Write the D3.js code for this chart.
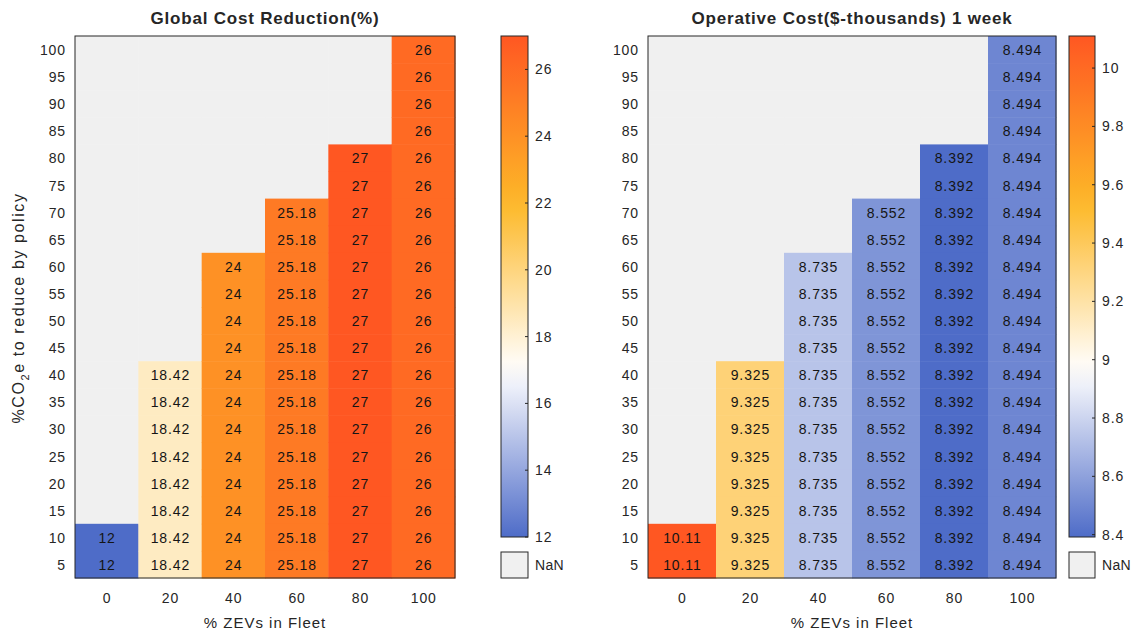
<!DOCTYPE html>
<html><head><meta charset="utf-8">
<script src="https://cdn.jsdelivr.net/npm/d3@7"></script>
<style>
body{margin:0;background:#fff;}
text{font-family:"Liberation Sans",Arial,Helvetica,sans-serif;}
</style></head>
<body><svg id="c" width="1137" height="634"></svg>
<script>
// ---- data ----
const zevs = [0, 20, 40, 60, 80, 100];
const co2Levels = [100, 95, 90, 85, 80, 75, 70, 65, 60, 55, 50, 45, 40, 35, 30, 25, 20, 15, 10, 5];
// each column listed from CO2 = 100 (top) down to CO2 = 5 (bottom); null = NaN
const N = null;
const costReductionCols = [
  [N,N,N,N,N,N,N,N,N,N,N,N,N,N,N,N,N,N,12,12],
  [N,N,N,N,N,N,N,N,N,N,N,N,18.42,18.42,18.42,18.42,18.42,18.42,18.42,18.42],
  [N,N,N,N,N,N,N,N,24,24,24,24,24,24,24,24,24,24,24,24],
  [N,N,N,N,N,N,25.18,25.18,25.18,25.18,25.18,25.18,25.18,25.18,25.18,25.18,25.18,25.18,25.18,25.18],
  [N,N,N,N,27,27,27,27,27,27,27,27,27,27,27,27,27,27,27,27],
  [26,26,26,26,26,26,26,26,26,26,26,26,26,26,26,26,26,26,26,26]
];
const opCostCols = [
  [N,N,N,N,N,N,N,N,N,N,N,N,N,N,N,N,N,N,10.11,10.11],
  [N,N,N,N,N,N,N,N,N,N,N,N,9.325,9.325,9.325,9.325,9.325,9.325,9.325,9.325],
  [N,N,N,N,N,N,N,N,8.735,8.735,8.735,8.735,8.735,8.735,8.735,8.735,8.735,8.735,8.735,8.735],
  [N,N,N,N,N,N,8.552,8.552,8.552,8.552,8.552,8.552,8.552,8.552,8.552,8.552,8.552,8.552,8.552,8.552],
  [N,N,N,N,8.392,8.392,8.392,8.392,8.392,8.392,8.392,8.392,8.392,8.392,8.392,8.392,8.392,8.392,8.392,8.392],
  [8.494,8.494,8.494,8.494,8.494,8.494,8.494,8.494,8.494,8.494,8.494,8.494,8.494,8.494,8.494,8.494,8.494,8.494,8.494,8.494]
];
const leftTicks = [12, 14, 16, 18, 20, 22, 24, 26];
const rightTicks = [8.4, 8.6, 8.8, 9, 9.2, 9.4, 9.6, 9.8, 10];
const leftDomain = [12, 27];
const rightDomain = [8.392, 10.11];

// ---- drawing ----
const svg = d3.select("#c");
const cmapColors = ["#4e6cc8", "#ffffff", "#fdb827", "#ff5722"];
const nanColor = "#f0f0f0";
const axisColor = "#262626";
const LS = 0.9;

function drawPanel(cfg) {
  const g = svg.append("g");
  const x = d3.scaleBand().domain(zevs).range([cfg.x0, cfg.x1]);
  const y = d3.scaleBand().domain(co2Levels).range([cfg.y0, cfg.y1]);
  const [lo, hi] = cfg.domain;
  const col = d3.scaleLinear()
    .domain([lo, lo + (hi - lo) / 3, lo + 2 * (hi - lo) / 3, hi])
    .range(cmapColors).interpolate(d3.interpolateRgb).clamp(true);

  const cells = [];
  zevs.forEach((z, i) => co2Levels.forEach((c, j) => cells.push({z, c, v: cfg.cols[i][j]})));

  g.selectAll("rect.cell").data(cells).join("rect")
    .attr("x", d => x(d.z)).attr("y", d => y(d.c))
    .attr("width", x.bandwidth() + 0.5).attr("height", y.bandwidth() + 0.5)
    .attr("fill", d => d.v == null ? nanColor : col(d.v));

  g.selectAll("text.cell").data(cells.filter(d => d.v != null)).join("text")
    .attr("x", d => x(d.z) + x.bandwidth() / 2 + LS / 2)
    .attr("y", d => y(d.c) + y.bandwidth() / 2 + 0.5)
    .attr("text-anchor", "middle").attr("dominant-baseline", "central")
    .attr("font-size", 14).attr("letter-spacing", LS).attr("fill", "#151515")
    .text(d => String(d.v));

  g.append("rect").attr("x", cfg.x0).attr("y", cfg.y0)
    .attr("width", cfg.x1 - cfg.x0).attr("height", cfg.y1 - cfg.y0)
    .attr("fill", "none").attr("stroke", axisColor).attr("stroke-width", 1);

  // y tick labels
  g.selectAll("text.yt").data(co2Levels).join("text")
    .attr("x", cfg.x0 - 9).attr("y", d => y(d) + y.bandwidth() / 2 + 0.5)
    .attr("text-anchor", "end").attr("dominant-baseline", "central")
    .attr("font-size", 14).attr("letter-spacing", LS).attr("fill", axisColor).text(d => d);
  // x tick labels
  g.selectAll("text.xt").data(zevs).join("text")
    .attr("x", d => x(d) + x.bandwidth() / 2 + LS / 2).attr("y", cfg.y1 + 20)
    .attr("text-anchor", "middle").attr("dominant-baseline", "central")
    .attr("font-size", 14).attr("letter-spacing", LS).attr("fill", axisColor).text(d => d);
  g.append("text").attr("x", (cfg.x0 + cfg.x1) / 2).attr("y", cfg.y1 + 44)
    .attr("text-anchor", "middle").attr("dominant-baseline", "central")
    .attr("font-size", 15).attr("letter-spacing", 1).attr("fill", axisColor).text("% ZEVs in Fleet");
  g.append("text").attr("x", (cfg.x0 + cfg.x1) / 2).attr("y", 18)
    .attr("text-anchor", "middle").attr("dominant-baseline", "central")
    .attr("font-size", 17).attr("letter-spacing", 0.8).attr("font-weight", "bold")
    .attr("fill", axisColor).text(cfg.title);

  // colorbar
  const gid = "grad" + cfg.id;
  const grad = svg.append("defs").append("linearGradient").attr("id", gid)
    .attr("x1", 0).attr("y1", 1).attr("x2", 0).attr("y2", 0);
  d3.range(0, 1.0001, 0.05).forEach(t => {
    grad.append("stop").attr("offset", t).attr("stop-color", col(lo + t * (hi - lo)));
  });
  const cb = cfg.cb;
  const cy = d3.scaleLinear().domain(cfg.domain).range([cb.y1, cb.y0]);
  g.append("rect").attr("x", cb.x0).attr("y", cb.y0).attr("width", cb.x1 - cb.x0)
    .attr("height", cb.y1 - cb.y0).attr("fill", `url(#${gid})`)
    .attr("stroke", axisColor).attr("stroke-width", 1);
  g.selectAll("line.ct").data(cfg.ticks).join("line")
    .attr("x1", cb.x1 - 3).attr("x2", cb.x1).attr("y1", d => cy(d)).attr("y2", d => cy(d))
    .attr("stroke", axisColor).attr("stroke-width", 1);
  g.selectAll("text.ct").data(cfg.ticks).join("text")
    .attr("x", cb.x1 + 7).attr("y", d => cy(d))
    .attr("dominant-baseline", "central").attr("font-size", 14).attr("letter-spacing", LS)
    .attr("fill", axisColor).text(d => d);
  g.append("rect").attr("x", cb.x0).attr("y", cb.n0).attr("width", cb.x1 - cb.x0)
    .attr("height", cfg.y1 - cb.n0).attr("fill", nanColor)
    .attr("stroke", axisColor).attr("stroke-width", 1);
  g.append("text").attr("x", cb.x1 + 7).attr("y", (cb.n0 + cfg.y1) / 2)
    .attr("dominant-baseline", "central").attr("font-size", 14).attr("letter-spacing", 0.3)
    .attr("fill", axisColor).text("NaN");
}

drawPanel({id: "L", x0: 75, x1: 455, y0: 36, y1: 578, cols: costReductionCols,
  domain: leftDomain, ticks: leftTicks, title: "Global Cost Reduction(%)",
  cb: {x0: 501, x1: 528, y0: 36, y1: 537, n0: 552}});
drawPanel({id: "R", x0: 648, x1: 1056, y0: 36, y1: 578, cols: opCostCols,
  domain: rightDomain, ticks: rightTicks, title: "Operative Cost($-thousands) 1 week",
  cb: {x0: 1069, x1: 1095, y0: 36, y1: 537, n0: 552}});

// y axis label with subscript
const yl = svg.append("text").attr("transform", "translate(24,308) rotate(-90)")
  .attr("text-anchor", "middle").attr("font-size", 16).attr("letter-spacing", 1.6)
  .attr("fill", axisColor);
yl.append("tspan").text("%CO");
yl.append("tspan").attr("font-size", 11).attr("dy", 5).text("2");
yl.append("tspan").attr("dy", -5).text("e to reduce by policy");
</script></body></html>
